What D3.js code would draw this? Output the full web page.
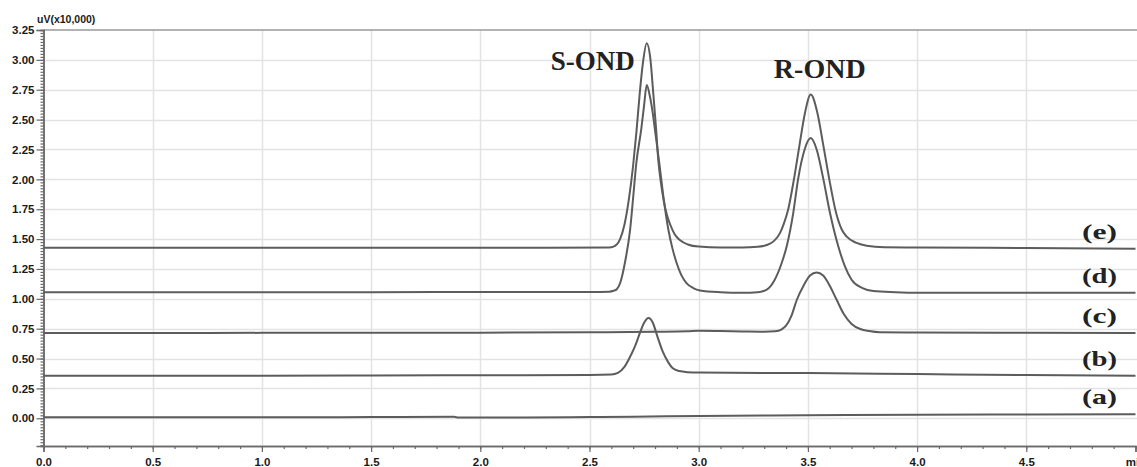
<!DOCTYPE html>
<html>
<head>
<meta charset="utf-8">
<script src="https://cdn.jsdelivr.net/npm/d3@7"></script>
<style>
  body { margin: 0; background: #fff; }
  svg { display: block; }
</style>
</head>
<body>
<script>
// tick values / labels
const xTicks = [0, 0.5, 1.0, 1.5, 2.0, 2.5, 3.0, 3.5, 4.0, 4.5, 5.0];
const xTickLabels = ["0.0", "0.5", "1.0", "1.5", "2.0", "2.5", "3.0", "3.5", "4.0", "4.5", "min"];
const yTicks = [0, 0.25, 0.5, 0.75, 1.0, 1.25, 1.5, 1.75, 2.0, 2.25, 2.5, 2.75, 3.0, 3.25];
const yTickLabels = ["0.00", "0.25", "0.50", "0.75", "1.00", "1.25", "1.50", "1.75", "2.00", "2.25", "2.50", "2.75", "3.00", "3.25"];
const yUnitLabel = "uV(x10,000)";

// chromatograms, [time (min), signal (uV x10,000)]
const traceA = [[0,0.008],[0.5,0.008],[1,0.008],[1.5,0.01],[1.88,0.012],[1.9,0.006],[2.2,0.006],[2.5,0.01],[2.7,0.013],[3.0,0.02],[3.5,0.025],[4.0,0.03],[4.5,0.032],[5.0,0.034]];
const traceB = [[0,0.357],[0.5,0.357],[1,0.357],[1.5,0.358],[2,0.36],[2.5,0.362],[2.6,0.366],[2.63,0.38],[2.66,0.43],[2.69,0.53],[2.71,0.61],[2.73,0.71],[2.75,0.80],[2.77,0.84],[2.79,0.80],[2.81,0.69],[2.835,0.56],[2.86,0.47],[2.88,0.42],[2.91,0.395],[2.95,0.386],[3.0,0.383],[3.5,0.378],[4.0,0.37],[4.5,0.362],[5.0,0.357]];
const traceC = [[0,0.713],[0.5,0.713],[1,0.715],[1.5,0.715],[2,0.716],[2.5,0.72],[2.8,0.724],[2.95,0.728],[3.0,0.732],[3.1,0.73],[3.2,0.727],[3.3,0.725],[3.35,0.728],[3.38,0.745],[3.40,0.775],[3.425,0.86],[3.449,0.99],[3.48,1.11],[3.51,1.195],[3.54,1.22],[3.57,1.195],[3.60,1.11],[3.632,0.99],[3.665,0.87],[3.70,0.79],[3.74,0.747],[3.78,0.73],[3.83,0.72],[4.0,0.718],[4.5,0.715],[5.0,0.713]];
const traceD = [[0,1.055],[0.5,1.055],[1,1.055],[1.5,1.055],[2,1.057],[2.5,1.058],[2.59,1.06],[2.61,1.067],[2.625,1.08],[2.64,1.13],[2.663,1.31],[2.686,1.58],[2.70,1.85],[2.714,2.13],[2.737,2.42],[2.75,2.62],[2.762,2.79],[2.776,2.70],[2.79,2.55],[2.80,2.41],[2.82,2.13],[2.838,1.86],[2.861,1.58],[2.88,1.42],[2.899,1.30],[2.92,1.20],[2.945,1.13],[2.975,1.09],[3.006,1.07],[3.1,1.055],[3.2,1.05],[3.27,1.055],[3.31,1.075],[3.345,1.15],[3.38,1.30],[3.403,1.44],[3.433,1.72],[3.455,2.0],[3.485,2.25],[3.513,2.345],[3.54,2.25],[3.571,2.0],[3.601,1.72],[3.639,1.44],[3.67,1.27],[3.70,1.16],[3.75,1.09],[3.80,1.065],[3.9,1.055],[4.0,1.05],[4.5,1.05],[5.0,1.05]];
const traceE = [[0,1.427],[0.5,1.427],[1,1.427],[1.5,1.427],[2,1.428],[2.3,1.428],[2.59,1.43],[2.61,1.437],[2.625,1.455],[2.64,1.50],[2.66,1.62],[2.68,1.83],[2.70,2.12],[2.715,2.4],[2.73,2.72],[2.745,2.98],[2.762,3.14],[2.778,3.02],[2.792,2.72],[2.805,2.42],[2.815,2.16],[2.828,1.96],[2.84,1.82],[2.855,1.70],[2.87,1.62],[2.89,1.54],[2.915,1.49],[2.95,1.455],[3.0,1.437],[3.1,1.43],[3.2,1.43],[3.27,1.435],[3.311,1.45],[3.345,1.485],[3.372,1.55],[3.39,1.63],[3.41,1.75],[3.436,2.0],[3.461,2.28],[3.487,2.56],[3.513,2.71],[3.543,2.56],[3.571,2.28],[3.598,2.0],[3.629,1.72],[3.655,1.58],[3.678,1.52],[3.72,1.47],[3.769,1.445],[3.85,1.432],[4.0,1.43],[4.5,1.425],[5.0,1.42]];

const traces = [traceA, traceB, traceC, traceD, traceE];
const traceLabels = ["(a)", "(b)", "(c)", "(d)", "(e)"];
const peakLabels = ["S-OND", "R-OND"];
const peakTimes = [2.762, 3.513];

const W = 1137, H = 467;

const svg = d3.select('body')
  .append('svg')
  .attr('width', W)
  .attr('height', H);

svg.append('rect').attr('width', W).attr('height', H).attr('fill', '#fff');

const x = d3.scaleLinear().domain([0, 5]).range([43.5, 1135.5]);
const y = d3.scaleLinear().domain([-0.232, 3.25]).range([446, 30]);

// grid
svg.append('g')
  .selectAll('line')
  .data(yTicks.filter(d => d < 3.25))
  .enter()
  .append('line')
  .attr('x1', x(0)).attr('x2', W)
  .attr('y1', d => Math.round(y(d)) + 0.5)
  .attr('y2', d => Math.round(y(d)) + 0.5)
  .attr('stroke', '#e3e3e3')
  .attr('stroke-width', 1.5);

svg.append('g')
  .selectAll('line')
  .data(xTicks.filter(d => d > 0 && d < 5))
  .enter()
  .append('line')
  .attr('x1', d => Math.round(x(d)) + 0.5)
  .attr('x2', d => Math.round(x(d)) + 0.5)
  .attr('y1', y(3.25)).attr('y2', y(-0.232))
  .attr('stroke', '#e3e3e3')
  .attr('stroke-width', 1.5);

// top border
svg.append('line')
  .attr('x1', x(0)).attr('x2', W)
  .attr('y1', y(3.25)).attr('y2', y(3.25))
  .attr('stroke', '#9a9a9a')
  .attr('stroke-width', 1.5);

// axes
const minorY = d3.range(-0.225, 3.2501, 0.025);
const minorX = d3.range(0, 5.001, 0.1);

const yAxisMinor = svg.append('g')
  .attr('transform', `translate(${x(0)},0)`)
  .call(d3.axisLeft(y).tickValues(minorY).tickSize(3).tickFormat(''));
const yAxis = svg.append('g')
  .attr('transform', `translate(${x(0)},0)`)
  .call(d3.axisLeft(y).tickValues(yTicks).tickSize(7).tickPadding(2)
    .tickFormat((d, i) => yTickLabels[i]));

const xAxisMinor = svg.append('g')
  .attr('transform', `translate(0,${y(-0.232)})`)
  .call(d3.axisBottom(x).tickValues(minorX).tickSize(3).tickFormat(''));
const xAxis = svg.append('g')
  .attr('transform', `translate(0,${y(-0.232)})`)
  .call(d3.axisBottom(x).tickValues(xTicks).tickSize(6).tickPadding(6)
    .tickFormat((d, i) => xTickLabels[i]));

[yAxisMinor, yAxis, xAxisMinor, xAxis].forEach(g => {
  g.select('.domain').attr('stroke', '#6a6a6a').attr('stroke-width', 1.5);
  g.selectAll('.tick line').attr('stroke', '#6a6a6a').attr('stroke-width', 1.2);
  g.selectAll('text')
    .attr('font-family', 'Liberation Sans, Arial, sans-serif')
    .attr('font-weight', 'bold')
    .attr('font-size', 11.5)
    .attr('fill', '#1a1a1a');
});

svg.append('text')
  .attr('x', 37)
  .attr('y', 23)
  .attr('font-family', 'Liberation Sans, Arial, sans-serif')
  .attr('font-weight', 'bold')
  .attr('font-size', 10.5)
  .attr('fill', '#1a1a1a')
  .text(yUnitLabel);

// traces
const line = d3.line()
  .x(d => x(d[0]))
  .y(d => y(d[1]))
  .curve(d3.curveMonotoneX);

svg.append('g')
  .selectAll('path')
  .data(traces)
  .enter()
  .append('path')
  .attr('d', line)
  .attr('fill', 'none')
  .attr('stroke', '#5c5c5c')
  .attr('stroke-width', 2);

// trace labels (a)..(e)
svg.append('g')
  .selectAll('text')
  .data(traceLabels)
  .enter()
  .append('text')
  .attr('x', 1082)
  .attr('y', (d, i) => y(traces[i][traces[i].length - 1][1]) - 10)
  .attr('textLength', 35)
  .attr('lengthAdjust', 'spacingAndGlyphs')
  .attr('font-family', 'Liberation Serif, Times New Roman, serif')
  .attr('font-weight', 'bold')
  .attr('font-size', 22)
  .attr('fill', '#222')
  .text(d => d);

// peak labels
svg.append('text')
  .attr('x', x(peakTimes[0]) - 12)
  .attr('y', 70)
  .attr('text-anchor', 'end')
  .attr('font-family', 'Liberation Serif, Times New Roman, serif')
  .attr('font-weight', 'bold')
  .attr('font-size', 27)
  .attr('fill', '#222')
  .text(peakLabels[0]);

svg.append('text')
  .attr('x', x(peakTimes[1]) + 9)
  .attr('y', 78)
  .attr('text-anchor', 'middle')
  .attr('font-family', 'Liberation Serif, Times New Roman, serif')
  .attr('font-weight', 'bold')
  .attr('font-size', 28)
  .attr('fill', '#222')
  .text(peakLabels[1]);
</script>
</body>
</html>
